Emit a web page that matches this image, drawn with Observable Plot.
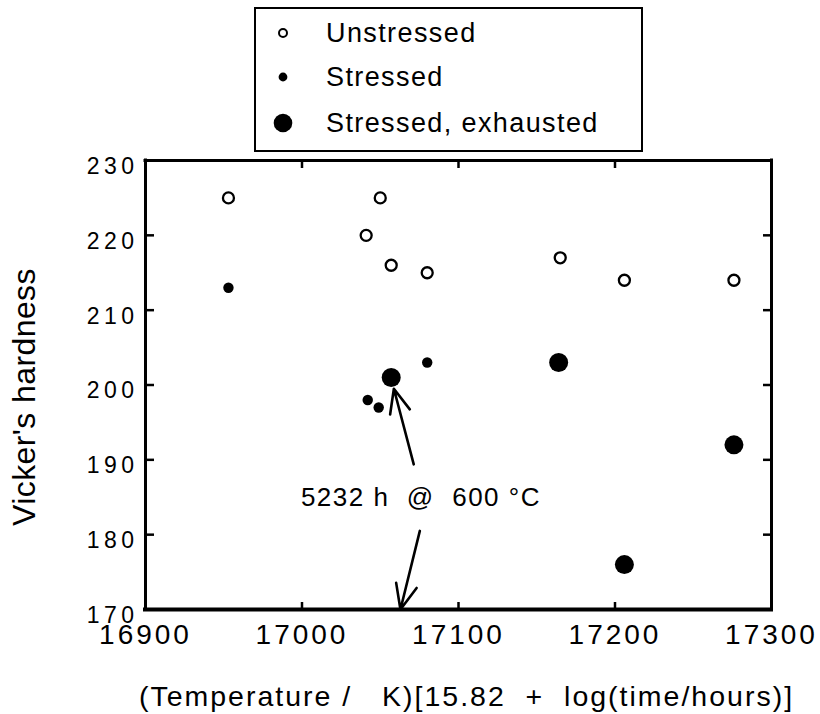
<!DOCTYPE html>
<html>
<head>
<meta charset="utf-8">
<script src="https://cdn.jsdelivr.net/npm/d3@7"></script>
<script src="https://cdn.jsdelivr.net/npm/@observablehq/plot@0.6"></script>
<style>
  html, body { margin: 0; padding: 0; background: #fff; }
  #wrap { position: relative; width: 820px; height: 714px; font-family: "Liberation Sans", Arial, sans-serif; }
  #wrap svg text { white-space: pre; }
  #legend { position: absolute; left: 254px; top: 7px; width: 389px; height: 145px; box-sizing: border-box; border: 2px solid #000; background: #fff; }
  .row { position: absolute; left: 0; height: 28px; line-height: 28px; font-size: 27px; letter-spacing: 1.4px; color: #000; white-space: pre; }
  .row svg { position: absolute; left: 9px; top: 0; }
  .row span { position: absolute; left: 70px; top: 0; }
</style>
</head>
<body>
<div id="wrap"></div>
<script>
// ---- data ----
const unstressedX = [16953, 17050, 17041, 17057, 17080, 17165, 17206, 17276];
const unstressedY = [225, 225, 220, 216, 215, 217, 214, 214];
const stressedX = [16953, 17080, 17042, 17049];
const stressedY = [213, 203, 198, 197];
const exhaustedX = [17057, 17164, 17206, 17276];
const exhaustedY = [201, 203, 176, 192];

const xTicks = [16900, 17000, 17100, 17200, 17300];
const yTicks = [170, 180, 190, 200, 210, 220, 230];

const seriesNames = ["Unstressed", "Stressed", "Stressed, exhausted"];

const arrowX1 = [17071.4, 17075.3];
const arrowY1 = [189.4, 180.5];
const arrowX2 = [17058.7, 17062.9];
const arrowY2 = [199.5, 170];

const annotX = [17076];
const annotY = [185];
const annotText = ["5232 h  @  600 °C"];

const xLabel = "(Temperature /   K)[15.82  +  log(time/hours)]";
const yLabel = "Vicker's hardness";

// ---- tables ----
const unstressed = unstressedX.map((x, i) => ({x, y: unstressedY[i]}));
const stressed = stressedX.map((x, i) => ({x, y: stressedY[i]}));
const exhausted = exhaustedX.map((x, i) => ({x, y: exhaustedY[i]}));
const arrows = arrowX1.map((x1, i) => ({x1, y1: arrowY1[i], x2: arrowX2[i], y2: arrowY2[i]}));
const annots = annotText.map((t, i) => ({t, x: annotX[i], y: annotY[i]}));

const font = "Liberation Sans, Arial, sans-serif";
const plain = d => String(d);

const chart = Plot.plot({
  width: 820,
  height: 714,
  marginTop: 160,
  marginLeft: 145,
  marginRight: 49,
  marginBottom: 105,
  x: {domain: [16900, 17300]},
  y: {domain: [170, 230]},
  style: {fontFamily: font, background: "#fff", color: "#000", overflow: "visible"},
  marks: [
    // inward ticks on all four sides
    Plot.axisX(xTicks, {anchor: "top", frameAnchor: "bottom", tickSize: 8, fill: "none", label: null, strokeWidth: 2.5}),
    Plot.axisX(xTicks, {anchor: "bottom", frameAnchor: "top", tickSize: 8, fill: "none", label: null, strokeWidth: 2.5}),
    Plot.axisY(yTicks, {anchor: "right", frameAnchor: "left", tickSize: 8, fill: "none", label: null, strokeWidth: 2.5}),
    Plot.axisY(yTicks, {anchor: "left", frameAnchor: "right", tickSize: 8, fill: "none", label: null, strokeWidth: 2.5}),
    // tick labels
    Plot.axisX(xTicks, {anchor: "bottom", tickSize: 0, tickPadding: 15, fontSize: 28, tickFormat: plain, label: null}),
    Plot.axisY(yTicks, {anchor: "left", tickSize: 0, tickPadding: 7, fontSize: 23, dy: 6, tickFormat: plain, label: null}),
    // frame
    Plot.ruleX([16900], {strokeWidth: 3, strokeLinecap: "square"}),
    Plot.ruleX([17300], {strokeWidth: 3, strokeLinecap: "square"}),
    Plot.ruleY([230], {strokeWidth: 3, strokeLinecap: "square"}),
    Plot.ruleY([170], {strokeWidth: 4, strokeLinecap: "square"}),
    // axis labels
    Plot.text([xLabel], {frameAnchor: "bottom", dx: 8, dy: 87, text: d => d, fontSize: 28.5, textAnchor: "middle", lineAnchor: "middle"}),
    Plot.text([yLabel], {frameAnchor: "left", dx: -121, dy: 12, rotate: -90, text: d => d, fontSize: 32, textAnchor: "middle", lineAnchor: "middle"}),
    // data
    Plot.dot(unstressed, {x: "x", y: "y", r: 5.5, fill: "#fff", stroke: "#000", strokeWidth: 2.3}),
    Plot.dot(stressed, {x: "x", y: "y", r: 5.2, fill: "#000", stroke: "none"}),
    Plot.dot(exhausted, {x: "x", y: "y", r: 9.5, fill: "#000", stroke: "none"}),
    // annotation
    Plot.arrow(arrows, {x1: "x1", y1: "y1", x2: "x2", y2: "y2", stroke: "#000", strokeWidth: 2.6, headLength: 21, headAngle: 46}),
    Plot.text(annots, {x: "x", y: "y", text: "t", fontSize: 26, lineAnchor: "middle"})
  ]
});

// letter spacing to match the reference's wide typesetting
const spacing = new Map([
  [xLabel, "2px"],
  [yLabel, "0.4px"],
  [annotText[0], "1.5px"]
]);
xTicks.forEach(t => spacing.set(String(t), "3px"));
yTicks.forEach(t => spacing.set(String(t), "4.5px"));
d3.select(chart).selectAll("text").each(function () {
  const s = spacing.get(this.textContent);
  if (s) this.style.letterSpacing = s;
});

const wrap = document.getElementById("wrap");
wrap.appendChild(chart);

// ---- legend (HTML above the plot) ----
const legend = document.createElement("div");
legend.id = "legend";
const rowCenters = [24, 68, 114];
const swatches = [
  '<circle cx="18" cy="14" r="4" fill="#fff" stroke="#000" stroke-width="2"/>',
  '<circle cx="18" cy="14" r="4.4" fill="#000"/>',
  '<circle cx="18" cy="14" r="9.3" fill="#000"/>'
];
seriesNames.forEach((name, i) => {
  const row = document.createElement("div");
  row.className = "row";
  row.style.top = (rowCenters[i] - 14) + "px";
  row.style.width = "380px";
  row.innerHTML = `<svg width="36" height="28">${swatches[i]}</svg><span>${name}</span>`;
  legend.appendChild(row);
});
wrap.appendChild(legend);
</script>
</body>
</html>
